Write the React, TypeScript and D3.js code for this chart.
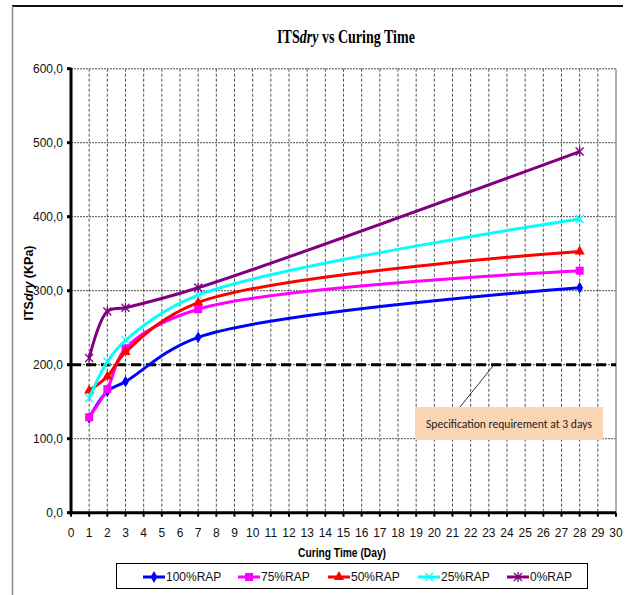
import React from "react";
import * as d3 from "d3";

const days = [1, 2, 3, 7, 28];
const rap100 = [128, 164, 177, 237, 304];
const rap75 = [129, 167, 222, 275, 327];
const rap50 = [165, 184, 217, 284, 353];
const rap25 = [155, 204, 233, 294, 397];
const rap0 = [209, 272, 277, 304, 488];

const seriesNames = ["100%RAP", "75%RAP", "50%RAP", "25%RAP", "0%RAP"];
const seriesValues = [rap100, rap75, rap50, rap25, rap0];
const seriesColors = ["#0000FF", "#FF00FF", "#FF0000", "#00FFFF", "#800080"];
const seriesMarkers = ["diamond", "square", "triangle", "x", "star"];

const xTicks = d3.range(0, 31);
const yTicks = [0, 100, 200, 300, 400, 500, 600];
const specValue = 200;
const specLabel = "Specification requirement at 3 days";

const W = 625;
const H = 595;
const x = d3.scaleLinear().domain([0, 30]).range([71, 616]);
const y = d3.scaleLinear().domain([0, 600]).range([512.7, 68.7]);

function Marker({ type, cx, cy, color }: { type: string; cx: number; cy: number; color: string }) {
  if (type === "diamond") {
    const p = d3.symbol().type(d3.symbolDiamond).size(40)();
    return <path d={p || ""} transform={`translate(${cx},${cy})`} fill={color} />;
  }
  if (type === "square") {
    return <rect x={cx - 4} y={cy - 4} width={8} height={8} fill={color} />;
  }
  if (type === "triangle") {
    const p = d3.symbol().type(d3.symbolTriangle).size(45)();
    return <path d={p || ""} transform={`translate(${cx},${cy})`} fill={color} />;
  }
  if (type === "x") {
    return (
      <g stroke={color} strokeWidth={1.3}>
        <line x1={cx - 4} y1={cy - 4} x2={cx + 4} y2={cy + 4} />
        <line x1={cx - 4} y1={cy + 4} x2={cx + 4} y2={cy - 4} />
      </g>
    );
  }
  return (
    <g stroke={color} strokeWidth={1.3}>
      <line x1={cx - 4} y1={cy - 4} x2={cx + 4} y2={cy + 4} />
      <line x1={cx - 4} y1={cy + 4} x2={cx + 4} y2={cy - 4} />
      <line x1={cx} y1={cy - 5} x2={cx} y2={cy + 5} />
    </g>
  );
}

export default function App() {
  const line = d3
    .line<[number, number]>()
    .x((d) => x(d[0]))
    .y((d) => y(d[1]))
    .curve(d3.curveCatmullRom.alpha(0.5));

  const legendX = [143, 238, 328, 418, 507];

  return (
    <svg
      width={W}
      height={H}
      style={{ position: "absolute", left: 0, top: 0, background: "#fff" }}
      fontFamily="Arial, 'Liberation Sans', sans-serif"
    >
      {/* outer frame */}
      <line x1={12} y1={6} x2={623} y2={6} stroke="#111" strokeWidth={2} />
      <line x1={12.5} y1={6} x2={12.5} y2={595} stroke="#888" strokeWidth={1.5} />

      {/* title */}
      <text transform="translate(346,43) scale(0.78,1)" textAnchor="middle" fontFamily="'Liberation Serif', 'Times New Roman', serif" fontWeight="bold" fontSize={18}>
        ITS<tspan fontStyle="italic">dry</tspan>{"  "}vs Curing Time
      </text>

      {/* vertical grid */}
      {xTicks.filter((t) => t > 0 && t < 30).map((t) => (
        <line key={"vg" + t} x1={x(t)} x2={x(t)} y1={y(600)} y2={y(0)} stroke="#222" strokeWidth={0.8} strokeDasharray="3,2" />
      ))}
      {/* horizontal grid */}
      {yTicks.filter((t) => t > 0).map((t) => (
        <line key={"hg" + t} x1={x(0)} x2={x(30)} y1={y(t)} y2={y(t)} stroke={t === 600 ? "#888" : "#222"} strokeWidth={t === 600 ? 1.5 : 0.8} strokeDasharray="2,1" />
      ))}
      {/* right border */}
      <line x1={x(30)} x2={x(30)} y1={y(600)} y2={y(0)} stroke="#999" strokeWidth={1.5} />

      {/* spec line */}
      <line x1={x(0)} x2={x(30)} y1={y(specValue)} y2={y(specValue)} stroke="#000" strokeWidth={3} strokeDasharray="10,5" />

      {/* axes */}
      <line x1={x(0)} x2={x(0)} y1={y(600) - 1} y2={y(0) + 1.5} stroke="#000" strokeWidth={3} />
      <line x1={x(0) - 1.5} x2={x(30)} y1={y(0)} y2={y(0)} stroke="#000" strokeWidth={3} />
      {yTicks.map((t) => (
        <g key={"yt" + t}>
          <line x1={x(0) - 4} x2={x(0)} y1={y(t)} y2={y(t)} stroke="#000" strokeWidth={3} />
          <text x={63} y={y(t) + 4} textAnchor="end" fontSize={12} fill="#111">
            {t.toFixed(1).replace(".", ",")}
          </text>
        </g>
      ))}
      {xTicks.map((t) => (
        <g key={"xt" + t}>
          <line x1={x(t)} x2={x(t)} y1={y(0)} y2={y(0) + 4} stroke="#000" strokeWidth={2} />
          <text x={x(t)} y={537} textAnchor="middle" fontSize={12} fill="#111">
            {t}
          </text>
        </g>
      ))}

      {/* axis titles */}
      <text x={342} y={557} textAnchor="middle" fontWeight="bold" fontSize={12} textLength={88} lengthAdjust="spacingAndGlyphs">
        Curing Time (Day)
      </text>
      <text transform="translate(33,283) rotate(-90)" textAnchor="middle" fontWeight="bold" fontSize={12.5}>
        ITS<tspan fontStyle="italic">dry</tspan> (KPa)
      </text>

      {/* series */}
      {seriesValues.map((vals, i) => {
        const pts = days.map((d, j) => [d, vals[j]] as [number, number]);
        return (
          <g key={"s" + i}>
            <path d={line(pts) || ""} fill="none" stroke={seriesColors[i]} strokeWidth={3} />
            {pts.map((p, j) => (
              <Marker key={j} type={seriesMarkers[i]} cx={x(p[0])} cy={y(p[1])} color={seriesColors[i]} />
            ))}
          </g>
        );
      })}

      {/* annotation */}
      <line x1={460} y1={407} x2={494} y2={y(specValue)} stroke="#000" strokeWidth={0.8} />
      <rect x={415} y={407} width={188} height={33} fill="#FBD4B4" />
      <text x={509} y={428} textAnchor="middle" fontSize={13} fill="#222" fontFamily="'Liberation Sans Narrow', 'Arial Narrow', Calibri, sans-serif" textLength={166} lengthAdjust="spacingAndGlyphs">
        {specLabel}
      </text>

      {/* legend */}
      <rect x={116.5} y={563.5} width={471} height={25} fill="#fff" stroke="#000" strokeWidth={1} />
      {seriesNames.map((n, i) => (
        <g key={"lg" + i}>
          <line x1={legendX[i]} x2={legendX[i] + 22} y1={577} y2={577} stroke={seriesColors[i]} strokeWidth={3} />
          <Marker type={seriesMarkers[i]} cx={legendX[i] + 11} cy={577} color={seriesColors[i]} />
          <text x={legendX[i] + 23} y={581} fontSize={12} fill="#111">
            {n}
          </text>
        </g>
      ))}
    </svg>
  );
}
